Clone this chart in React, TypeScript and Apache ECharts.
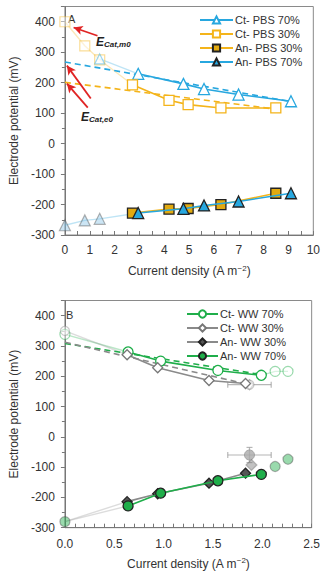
import React, { useEffect, useRef } from 'react';
import * as echarts from 'echarts';

// ---- Panel A: PBS electrolyte ----
const pbsDens70 = [2.95, 4.77, 5.6, 6.99, 9.1];
const pbsDens30 = [2.72, 4.19, 4.96, 6.28, 8.49];
const ctPbs70 = [229, 196, 179, 161, 139];
const ctPbs30 = [193, 142, 128, 117, 117];
const anPbs30 = [-228, -215, -213, -200, -163];
const anPbs70 = [-228, -214, -203, -190, -163];

// low-current points excluded from the fits
const pbsLowDens = [0, 0.8, 1.4];
const ctPbs30Low = [400, 321, 275];
const ctPbs70LowDens = [1.4];
const ctPbs70Low = [278];
const anPbsLow = [-268, -252, -247];

// linear fits extrapolated to zero current
const fitPbs70Dens = [0, 9.1];
const fitPbs70E = [268, 138];
const fitPbs30Dens = [0, 8.49];
const fitPbs30E = [201, 113];

// ---- Panel B: wastewater ----
const wwDens70 = [0.64, 0.97, 1.55, 1.99];
const wwDens30 = [0.63, 0.94, 1.46, 1.83];
const ctWw70 = [280, 250, 219, 203];
const ctWw30 = [271, 228, 186, 176];
const anWw30 = [-214, -188, -153, -120];
const anWw70 = [-228, -186, -145, -124];

const ctWw70ExtraDens = [0, 2.13, 2.26];
const ctWw70Extra = [338, 216, 216];
const ctWw30ExtraDens = [0, 1.87];
const ctWw30Extra = [350, 172];
const anWw70ExtraDens = [0, 2.13, 2.26];
const anWw70Extra = [-280, -98, -74];
const anWw30ExtraDens = [1.89];
const anWw30Extra = [-93];
// averaged points with spread: [density, potential, density err, potential err]
const wwErrPoints = [
  [1.87, 172, 0.22, 0],
  [1.87, -60, 0.22, 25],
];

const fitWw70Dens = [0, 2.0];
const fitWw70E = [308, 205];
const fitWw30Dens = [0, 1.87];
const fitWw30E = [312, 172];

// E_Cat arrows: [fromDens, fromE, toDens, toE]
const arrowsA = [
  [1.31, 354, 0.35, 381],
  [1.04, 148, 0.08, 256],
  [0.92, 118, 0.08, 197],
];

const BLUE = '#27a7df';
const ORANGE = '#f4b41a';
const ORANGE_FILL = '#e2aa10';
const GREEN = '#1fae4a';
const GRAY = '#8a8a8a';
const DARK = '#555555';
const RED = '#e02424';
const TEXT = '#333333';
const FONT = '"Liberation Sans", Arial, sans-serif';

const pairs = (xs: number[], ys: number[]) => xs.map((x, i) => [x, ys[i]]);

export default function App() {
  const ref = useRef<HTMLDivElement>(null);

  useEffect(() => {
    if (!ref.current) return;
    const chart = echarts.init(ref.current, undefined, { renderer: 'svg' });

    const grids = [
      { left: 56, top: 6.5, width: 260.5, height: 228.5, show: true, borderColor: '#8a8a8a', borderWidth: 1 },
      { left: 56, top: 300.5, width: 260.5, height: 227.2, show: true, borderColor: '#8a8a8a', borderWidth: 1 },
    ];

    const xName = '{a|Current density (A m}{s|\u22122}{a|)}';
    const xNameStyle = {
      fontFamily: FONT,
      color: TEXT,
      rich: {
        a: { fontSize: 12, fontFamily: FONT, color: TEXT, lineHeight: 14 },
        s: { fontSize: 8, fontFamily: FONT, color: TEXT, verticalAlign: 'top', lineHeight: 14, padding: [0, 0, 6, 0] },
      },
    };

    const xAxisBase = {
      type: 'value',
      nameLocation: 'middle',
      nameGap: 29,
      name: xName,
      nameTextStyle: xNameStyle,
      axisLine: { show: true, onZero: false, lineStyle: { color: '#777', width: 1 } },
      axisTick: { show: true, inside: true, length: 4, lineStyle: { color: '#777' } },
      minorTick: { show: true, length: 4, lineStyle: { color: '#777' } },
      splitLine: { show: false },
      axisLabel: { color: TEXT, fontSize: 12, fontFamily: FONT, margin: 9 },
    };

    const yAxisBase = (gridIndex: number) => ({
      type: 'value',
      gridIndex,
      min: -300,
      max: 450,
      interval: 100,
      name: 'Electrode potential (mV)',
      nameLocation: 'middle',
      nameGap: 35,
      nameTextStyle: { color: TEXT, fontSize: 12, fontFamily: FONT },
      axisLine: { show: true, onZero: false, lineStyle: { color: '#777', width: 1 } },
      axisTick: { show: true, inside: false, length: 4, lineStyle: { color: '#777' } },
      minorTick: { show: true, splitNumber: 2, length: 3, lineStyle: { color: '#777' } },
      splitLine: { show: false },
      axisLabel: {
        color: TEXT,
        fontSize: 12,
        fontFamily: FONT,
        margin: 10,
        formatter: (v: number) => (v > 400 ? '' : String(v)),
      },
    });

    const line = (
      name: string,
      xi: number,
      data: number[][],
      color: string,
      symbol: string,
      size: number,
      fill: string,
      border: string,
      z = 5
    ) => ({
      name,
      type: 'line',
      xAxisIndex: xi,
      yAxisIndex: xi,
      data,
      symbol,
      symbolSize: size,
      showSymbol: true,
      z,
      lineStyle: { color, width: 1.6 },
      itemStyle: { color: fill, borderColor: border, borderWidth: 1.3 },
    });

    const faded = (
      xi: number,
      data: number[][],
      color: string,
      symbol: string,
      size: number,
      fill: string,
      border: string,
      withSymbols = true
    ) => ({
      type: 'line',
      xAxisIndex: xi,
      yAxisIndex: xi,
      data,
      symbol: withSymbols ? symbol : 'none',
      symbolSize: size,
      showSymbol: withSymbols,
      z: 2,
      lineStyle: { color, width: 1.4, opacity: withSymbols ? 0 : 0.3 },
      itemStyle: { color: fill, borderColor: border, borderWidth: 1.2, opacity: 0.45 },
      silent: true,
    });

    const dashed = (xi: number, xs: number[], ys: number[], color: string) => ({
      type: 'line',
      xAxisIndex: xi,
      yAxisIndex: xi,
      data: pairs(xs, ys),
      symbol: 'none',
      z: 3,
      lineStyle: { color, width: 1.6, type: [6, 4] },
      silent: true,
    });

    const firstOf = (xs: number[], ys: number[]) => [xs[0], ys[0]];

    const series: any[] = [
      // Panel A fits
      dashed(0, fitPbs70Dens, fitPbs70E, BLUE),
      dashed(0, fitPbs30Dens, fitPbs30E, ORANGE),
      // Panel A excluded low-current region
      faded(0, [...pairs(pbsLowDens, ctPbs30Low), firstOf(pbsDens30, ctPbs30)], ORANGE, 'none', 0, '#fff', ORANGE, false),
      faded(0, [...pairs(ctPbs70LowDens, ctPbs70Low), firstOf(pbsDens70, ctPbs70)], BLUE, 'none', 0, '#fff', BLUE, false),
      faded(0, [...pairs(pbsLowDens, anPbsLow), firstOf(pbsDens70, anPbs70)], BLUE, 'none', 0, '#fff', BLUE, false),
      faded(0, pairs(pbsLowDens, ctPbs30Low), ORANGE, 'rect', 10, '#ffffff', ORANGE),
      faded(0, pairs(ctPbs70LowDens, ctPbs70Low), BLUE, 'triangle', 10, '#ffffff', BLUE),
      faded(0, pairs(pbsLowDens, anPbsLow), BLUE, 'triangle', 11, '#8fc6e6', '#555'),
      // Panel A measured series
      line('Ct- PBS 70%', 0, pairs(pbsDens70, ctPbs70), BLUE, 'triangle', 11, '#ffffff', BLUE),
      {
        ...line('Ct- PBS 30%', 0, pairs(pbsDens30, ctPbs30), ORANGE, 'rect', 10, '#ffffff', ORANGE),
        markLine: {
          silent: true,
          symbol: ['none', 'arrow'],
          symbolSize: [7, 9],
          label: { show: false },
          lineStyle: { color: RED, width: 1.8, type: 'solid' },
          data: arrowsA.map((a) => [{ coord: [a[0], a[1]] }, { coord: [a[2], a[3]] }]),
        },
      },
      line('An- PBS 30%', 0, pairs(pbsDens30, anPbs30), ORANGE, 'rect', 10, ORANGE_FILL, '#222', 6),
      line('An- PBS 70%', 0, pairs(pbsDens70, anPbs70), BLUE, 'triangle', 11, BLUE, '#222', 7),

      // Panel B fits
      dashed(1, fitWw70Dens, fitWw70E, GREEN),
      dashed(1, fitWw30Dens, fitWw30E, GRAY),
      // Panel B extra points
      faded(1, [pairs(ctWw70ExtraDens, ctWw70Extra)[0], firstOf(wwDens70, ctWw70)], GREEN, 'none', 0, '#fff', GREEN, false),
      faded(1, [pairs(ctWw30ExtraDens, ctWw30Extra)[0], firstOf(wwDens30, ctWw30)], GRAY, 'none', 0, '#fff', GRAY, false),
      faded(1, [pairs(anWw70ExtraDens, anWw70Extra)[0], firstOf(wwDens70, anWw70)], GRAY, 'none', 0, '#fff', GRAY, false),
      faded(1, [pairs(anWw70ExtraDens, anWw70Extra)[0], firstOf(wwDens30, anWw30)], GRAY, 'none', 0, '#fff', GRAY, false),
      faded(1, [[wwDens70[3], ctWw70[3]], ...pairs(ctWw70ExtraDens, ctWw70Extra).slice(1)], GREEN, 'none', 0, '#fff', GREEN, false),
      faded(1, pairs(ctWw70ExtraDens, ctWw70Extra), GREEN, 'circle', 10, '#ffffff', GREEN),
      faded(1, pairs(ctWw30ExtraDens, ctWw30Extra), GRAY, 'circle', 9, '#ffffff', GRAY),
      faded(1, pairs(anWw70ExtraDens, anWw70Extra), GREEN, 'circle', 10, GREEN, '#555'),
      faded(1, pairs(anWw30ExtraDens, anWw30Extra), GRAY, 'diamond', 11, '#777', '#777'),
      {
        type: 'custom',
        xAxisIndex: 1,
        yAxisIndex: 1,
        silent: true,
        z: 2,
        data: wwErrPoints,
        encode: { x: 0, y: 1 },
        renderItem: (_p: any, api: any) => {
          const x = api.value(0);
          const y = api.value(1);
          const ex = api.value(2);
          const ey = api.value(3);
          const c = api.coord([x, y]);
          const l = api.coord([x - ex, y]);
          const r = api.coord([x + ex, y]);
          const t = api.coord([x, y + ey]);
          const b = api.coord([x, y - ey]);
          const st = { stroke: '#999', lineWidth: 1.2, opacity: 0.7 };
          const children: any[] = [
            { type: 'line', shape: { x1: l[0], y1: l[1], x2: r[0], y2: r[1] }, style: st },
            { type: 'line', shape: { x1: l[0], y1: l[1] - 3, x2: l[0], y2: l[1] + 3 }, style: st },
            { type: 'line', shape: { x1: r[0], y1: r[1] - 3, x2: r[0], y2: r[1] + 3 }, style: st },
          ];
          if (ey > 0) {
            children.push(
              { type: 'line', shape: { x1: t[0], y1: t[1], x2: b[0], y2: b[1] }, style: st },
              { type: 'line', shape: { x1: t[0] - 3, y1: t[1], x2: t[0] + 3, y2: t[1] }, style: st },
              { type: 'line', shape: { x1: b[0] - 3, y1: b[1], x2: b[0] + 3, y2: b[1] }, style: st },
              { type: 'circle', shape: { cx: c[0], cy: c[1], r: 5 }, style: { fill: '#aaa', stroke: '#999', opacity: 0.8 } }
            );
          } else {
            children.push({
              type: 'polygon',
              shape: { points: [[c[0], c[1] - 5], [c[0] + 4, c[1]], [c[0], c[1] + 5], [c[0] - 4, c[1]]] },
              style: { fill: '#fff', stroke: '#aaa', lineWidth: 1.2, opacity: 0.8 },
            });
          }
          return { type: 'group', children };
        },
      },
      // Panel B measured series
      line('Ct- WW 70%', 1, pairs(wwDens70, ctWw70), GREEN, 'circle', 10, '#ffffff', GREEN),
      line('Ct- WW 30%', 1, pairs(wwDens30, ctWw30), GRAY, 'diamond', 10, '#ffffff', '#777'),
      line('An- WW 30%', 1, pairs(wwDens30, anWw30), GRAY, 'diamond', 10, DARK, '#222', 6),
      line('An- WW 70%', 1, pairs(wwDens70, anWw70), GREEN, 'circle', 10, GREEN, '#222', 7),
    ];

    const legendBase = {
      orient: 'vertical',
      itemGap: 2,
      itemHeight: 9,
      textStyle: { color: TEXT, fontSize: 11, fontFamily: FONT, lineHeight: 12, padding: [0, 0, 0, -3] },
      selectedMode: false,
    };

    const eLabel = (key: string, sub: string, left: number, top: number) => ({
      type: 'text',
      left,
      top,
      silent: true,
      style: {
        text: `{e|E}{s|${sub}}`,
        rich: {
          e: { fontSize: 12, fontWeight: 'bold', fontStyle: 'italic', fill: '#222', fontFamily: FONT, verticalAlign: 'bottom', lineHeight: 14 },
          s: { fontSize: 8, fontWeight: 'bold', fontStyle: 'italic', fill: '#222', fontFamily: FONT, verticalAlign: 'bottom', lineHeight: 12 },
        },
      },
      id: key,
    });

    chart.setOption({
      animation: false,
      backgroundColor: '#ffffff',
      textStyle: { fontFamily: FONT },
      grid: grids,
      xAxis: [
        { ...xAxisBase, gridIndex: 0, min: 0, max: 10, interval: 1, minorTick: { ...xAxisBase.minorTick, splitNumber: 2 } },
        {
          ...xAxisBase,
          gridIndex: 1,
          min: 0,
          max: 2.5,
          interval: 0.5,
          minorTick: { ...xAxisBase.minorTick, splitNumber: 5 },
          axisLabel: { ...xAxisBase.axisLabel, margin: 10, formatter: (v: number) => v.toFixed(1) },
        },
      ],
      yAxis: [yAxisBase(0), yAxisBase(1)],
      legend: [
        { ...legendBase, left: 194, top: 9, itemWidth: 33, data: ['Ct- PBS 70%', 'Ct- PBS 30%', 'An- PBS 30%', 'An- PBS 70%'] },
        { ...legendBase, left: 181, top: 303, itemWidth: 31, data: ['Ct- WW 70%', 'Ct- WW 30%', 'An- WW 30%', 'An- WW 70%'] },
      ],
      graphic: [
        { type: 'text', left: 68, top: 13, silent: true, style: { text: 'A', fontSize: 11, fill: TEXT, fontFamily: FONT } },
        { type: 'text', left: 66, top: 309, silent: true, style: { text: 'B', fontSize: 11, fill: TEXT, fontFamily: FONT } },
        eLabel('em0', 'Cat,m0', 96, 36),
        eLabel('ee0', 'Cat,e0', 81, 111),
      ],
      series,
    });

    return () => chart.dispose();
  }, []);

  return (
    <div
      ref={ref}
      style={{ position: 'absolute', left: 0, top: 0, width: 323, height: 575, background: '#fff' }}
    />
  );
}
